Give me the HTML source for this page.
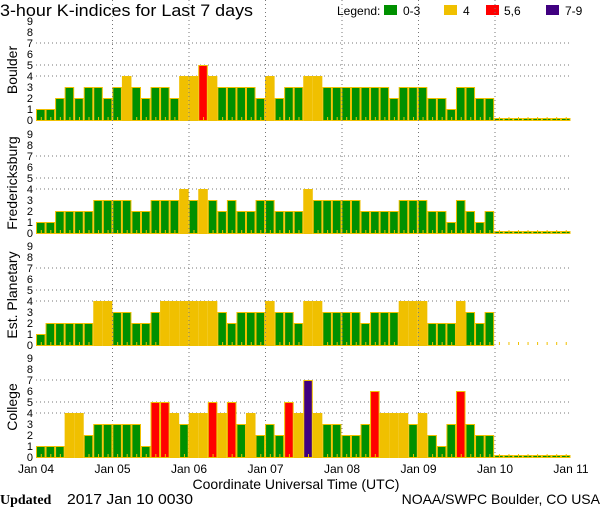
<!DOCTYPE html>
<html><head><meta charset="utf-8"><style>
html,body{margin:0;padding:0;background:#fff;width:600px;height:510px;overflow:hidden}
svg{display:block}
text{font-family:"Liberation Sans",sans-serif;fill:#000}
</style></head><body>
<svg id="s" width="600" height="510" viewBox="0 0 600 510" xmlns="http://www.w3.org/2000/svg">
<text x="0" y="16" font-size="17" textLength="253" lengthAdjust="spacingAndGlyphs">3-hour K-indices for Last 7 days</text>
<text x="337" y="15" font-size="12">Legend:</text>
<rect x="384" y="5" width="13" height="10" fill="#009000"/><text x="403" y="15" font-size="12">0-3</text>
<rect x="444" y="5" width="13" height="10" fill="#f0c000"/><text x="463" y="15" font-size="12">4</text>
<rect x="486" y="5" width="13" height="10" fill="#ff0000"/><text x="504" y="15" font-size="12">5,6</text>
<rect x="546" y="5" width="13" height="10" fill="#400080"/><text x="565" y="15" font-size="12">7-9</text>
<g font-size="12" text-anchor="middle">
<text x="36" y="473">Jan 04</text><text x="112.5" y="473">Jan 05</text><text x="189" y="473">Jan 06</text><text x="265.5" y="473">Jan 07</text><text x="342" y="473">Jan 08</text><text x="418.5" y="473">Jan 09</text><text x="495" y="473">Jan 10</text><text x="571" y="473">Jan 11</text>
<text x="296" y="489" font-size="14">Coordinate Universal Time (UTC)</text>
</g>
<text x="0" y="504" font-size="14" font-weight="bold" style="font-family:'Liberation Serif',serif">Updated</text>
<text x="67" y="504" font-size="15" textLength="126" lengthAdjust="spacingAndGlyphs">2017 Jan 10 0030</text>
<text x="600" y="504" font-size="14" text-anchor="end">NOAA/SWPC Boulder, CO USA</text>
<g font-size="14" text-anchor="middle">
<text transform="translate(17,70) rotate(-90)">Boulder</text>
<text transform="translate(17,183) rotate(-90)">Fredericksburg</text>
<text transform="translate(17,295) rotate(-90)">Est. Planetary</text>
<text transform="translate(17,407) rotate(-90)">College</text>
</g>
</svg>
<script>
var s=document.getElementById('s'),NS='http://www.w3.org/2000/svg';
function el(t,a){var e=document.createElementNS(NS,t);for(var k in a)e.setAttribute(k,a[k]);s.appendChild(e);return e;}
var data=[
[1,1,2,3,2,3,3,2, 3,4,3,2,3,3,2,4, 4,5,4,3,3,3,3,2, 4,2,3,3,4,4,3,3, 3,3,3,3,3,2,3,3, 3,2,2,1,3,3,2,2, 0,0,0,0,0,0,0,0],
[1,1,2,2,2,2,3,3, 3,3,2,2,3,3,3,4, 3,4,3,2,3,2,2,3, 3,2,2,2,4,3,3,3, 3,3,2,2,2,2,3,3, 3,2,2,1,3,2,1,2, 0,0,0,0,0,0,0,0],
[1,2,2,2,2,2,4,4, 3,3,2,2,3,4,4,4, 4,4,4,3,2,3,3,3, 4,3,3,2,4,4,3,3, 3,3,2,3,3,3,4,4, 4,2,2,2,4,3,2,3, -1,-1,-1,-1,-1,-1,-1,-1],
[1,1,1,4,4,2,3,3, 3,3,3,1,5,5,4,3, 4,4,5,4,5,3,4,2, 3,2,5,4,7,4,3,3, 2,2,3,6,4,4,4,3, 4,2,1,3,6,3,2,2, 0,0,0,0,0,0,0,0]];
var bots=[121,234,346,458],L=36,R=570.5,bw=(R-L)/56,U=11;
function col(v){return v<=3?'#009000':v==4?'#f0c000':v<=6?'#ff0000':'#400080';}
for(var p=0;p<4;p++){
 var b=bots[p],z=b-1,top=b-102;
 [4,5,7].forEach(function(k){el('line',{x1:L,x2:R,y1:z-k*U,y2:z-k*U,stroke:'#777','stroke-dasharray':'1,3'});});
 for(var d=1;d<7;d++){var x=L+d*76.5;el('line',{x1:x,x2:x,y1:top,y2:b,stroke:'#777','stroke-dasharray':'1,3'});}
 for(var i=0;i<56;i++){
  var v=data[p][i],x=L+i*bw;
  if(v>=0){var h=v==0?2:v*U;
   el('rect',{x:x+0.5,y:z-h+0.5,width:bw-1,height:h,fill:col(v),stroke:'#f0c000','stroke-width':1});}
  el('rect',{x:x+bw/2,y:z-3,width:1,height:3,fill:'#f0c000'});
 }
 el('path',{d:'M'+L+' '+top+' H'+R+' V'+b+' H'+L+' Z',fill:'none',stroke:'#000','stroke-width':1.5});
 for(var k=0;k<=9;k++){var t=el('text',{x:33,y:z-k*U+4,'font-size':11,'text-anchor':'end'});t.textContent=k;}
}
</script>
</body></html>
